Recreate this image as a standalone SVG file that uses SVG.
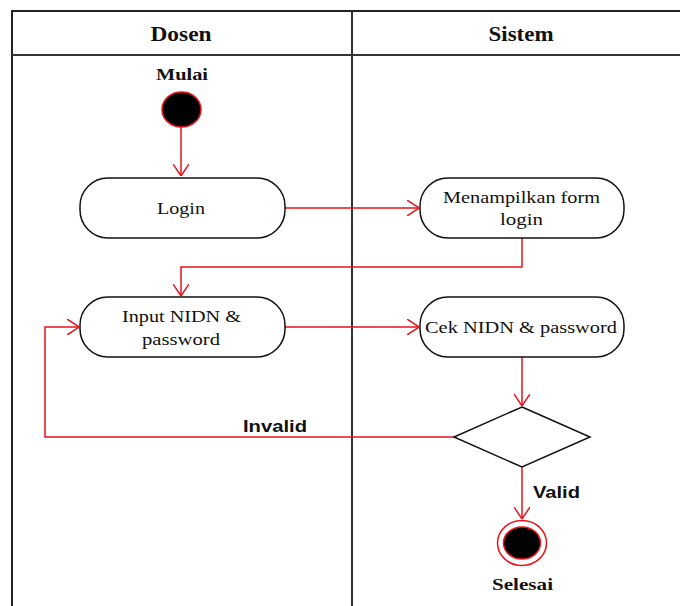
<svg xmlns="http://www.w3.org/2000/svg" width="680" height="606" viewBox="0 0 680 606">
<defs>
<marker id="arr" viewBox="0 0 12 16" refX="12" refY="8" markerWidth="12" markerHeight="16" markerUnits="userSpaceOnUse" orient="auto">
<path d="M0,0 L12,8 L0,16" fill="none" stroke="#e8141b" stroke-width="1.5"/>
</marker>
<style>
.frame{fill:none;stroke:#222;stroke-width:2}
.lane{stroke:#333;stroke-width:2}
.act{fill:#fff;stroke:#111;stroke-width:1.5}
.t{font-family:"Liberation Serif",serif;font-size:17px;fill:#111;text-anchor:middle}
.h{font-family:"Liberation Serif",serif;font-size:21px;font-weight:bold;fill:#111;text-anchor:middle}
.b{font-family:"Liberation Serif",serif;font-size:17px;font-weight:bold;fill:#111;text-anchor:middle}
.g{font-family:"Liberation Sans",Arial,sans-serif;font-size:17px;font-weight:bold;fill:#111}
.c{fill:none;stroke:#e8141b;stroke-width:1.5;marker-end:url(#arr)}
</style>
</defs>
<rect width="680" height="606" fill="#fff"/>
<g id="swimlanes">
<path class="frame" d="M12,606 V11 H680"/>
<line class="lane" x1="12" y1="55" x2="680" y2="55"/>
<line class="lane" x1="352" y1="11" x2="352" y2="606"/>
<text class="h" x="181" y="41" textLength="61" lengthAdjust="spacingAndGlyphs">Dosen</text>
<text class="h" x="521" y="41" textLength="65" lengthAdjust="spacingAndGlyphs">Sistem</text>
</g>
<g id="connectors">
<path class="c" d="M181,127 V176"/>
<path class="c" d="M285,208 H419"/>
<path class="c" d="M522,238 V267 H181 V296"/>
<path class="c" d="M285,327 H419"/>
<path class="c" d="M522,357 V406"/>
<path class="c" d="M454,437 H45 V327 H79"/>
<path class="c" d="M522,467 V519"/>
<text class="g" x="243" y="432" textLength="64" lengthAdjust="spacingAndGlyphs">Invalid</text>
<text class="g" x="533" y="498" textLength="47" lengthAdjust="spacingAndGlyphs">Valid</text>
</g>
<g id="start">
<text class="b" x="182" y="80" textLength="52" lengthAdjust="spacingAndGlyphs">Mulai</text>
<ellipse cx="181.5" cy="109.5" rx="19.5" ry="17.5" fill="#000" stroke="#e8141b" stroke-width="1.5"/>
</g>
<g id="login">
<rect class="act" x="80" y="178" width="205" height="60" rx="28"/>
<text class="t" x="181" y="214" textLength="48" lengthAdjust="spacingAndGlyphs">Login</text>
</g>
<g id="form">
<rect class="act" x="420" y="178" width="204" height="60" rx="28"/>
<text class="t" x="521.5" y="203" textLength="157" lengthAdjust="spacingAndGlyphs">Menampilkan form</text>
<text class="t" x="521.5" y="225" textLength="43" lengthAdjust="spacingAndGlyphs">login</text>
</g>
<g id="input">
<rect class="act" x="80" y="297" width="205" height="60" rx="28"/>
<text class="t" x="181.5" y="322" textLength="119" lengthAdjust="spacingAndGlyphs">Input NIDN &amp;</text>
<text class="t" x="181" y="345" textLength="78" lengthAdjust="spacingAndGlyphs">password</text>
</g>
<g id="cek">
<rect class="act" x="420" y="297" width="204" height="60" rx="28"/>
<text class="t" x="521" y="333" textLength="192" lengthAdjust="spacingAndGlyphs">Cek NIDN &amp; password</text>
</g>
<g id="decision">
<polygon points="522,407 590,437 522,467 454,437" fill="#fff" stroke="#111" stroke-width="1.5"/>
</g>
<g id="end">
<ellipse cx="522" cy="543" rx="24.5" ry="22.5" fill="#fff" stroke="#e8141b" stroke-width="1.5"/>
<ellipse cx="522" cy="543" rx="18.5" ry="16" fill="#000" stroke="#e8141b" stroke-width="1.5"/>
<text class="b" x="522.5" y="590" textLength="61" lengthAdjust="spacingAndGlyphs">Selesai</text>
</g>
</svg>
